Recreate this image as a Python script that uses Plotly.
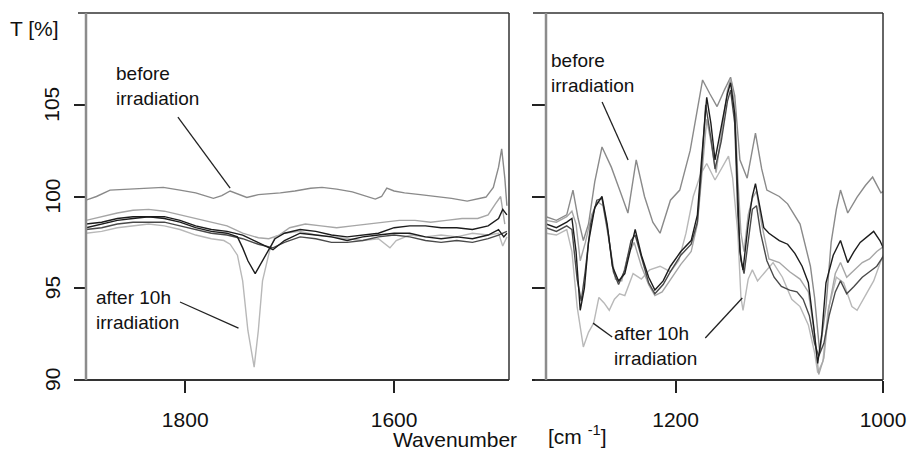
import plotly.graph_objects as go

# ---------------- data: left panel (1900-1490 cm-1) ----------------
L_before_wn = [1895,1885,1872,1855,1840,1821,1805,1790,1773,1765,1757,1748,1741,1730,1718,1709,1695,1680,1669,1655,1640,1628,1618,1612,1607,1600,1590,1575,1560,1545,1530,1520,1512,1505,1500,1497,1494,1492]
L_before_T = [99.8,100.0,100.35,100.4,100.45,100.5,100.35,100.2,99.9,100.05,100.3,100.1,99.95,100.1,100.15,100.2,100.3,100.45,100.5,100.4,100.25,100.05,99.86,100.0,100.46,100.3,100.2,100.1,100.0,99.9,99.75,99.85,99.97,100.5,101.6,102.6,101.0,99.5]

L_after_wn = [1895,1880,1865,1850,1835,1820,1805,1790,1775,1763,1757,1750,1745,1740,1734,1730,1726,1719,1714,1705,1690,1675,1660,1645,1630,1615,1608,1604,1598,1585,1570,1555,1540,1525,1510,1500,1496,1492]
L_after_T = [98.0,98.1,98.3,98.4,98.5,98.4,98.2,97.9,97.7,97.6,97.4,96.8,95.4,92.7,90.7,92.7,95.4,97.1,97.8,98.0,98.1,97.9,97.8,97.7,97.6,97.7,97.4,97.2,97.6,97.9,97.8,97.9,97.8,98.0,97.9,98.0,97.3,97.8]

L_black1_wn = [1895,1880,1865,1850,1835,1820,1805,1790,1775,1760,1750,1745,1740,1733,1727,1720,1714,1705,1690,1675,1660,1645,1630,1615,1600,1585,1570,1555,1540,1525,1510,1500,1496,1492]
L_black1_T = [98.3,98.5,98.7,98.8,98.9,98.8,98.6,98.3,98.1,98.0,97.8,97.2,96.5,95.8,96.4,97.1,97.7,98.0,98.2,98.1,97.9,97.8,97.9,98.0,98.3,98.4,98.4,98.3,98.3,98.2,98.4,98.8,99.3,99.0]

L_black2_wn = [1895,1880,1865,1850,1835,1820,1805,1790,1775,1760,1745,1730,1716,1705,1690,1675,1660,1645,1630,1615,1600,1585,1570,1555,1540,1525,1510,1500,1495,1492]
L_black2_T = [98.5,98.6,98.8,98.9,98.9,98.9,98.7,98.4,98.2,98.1,97.9,97.5,97.1,97.6,98.0,97.9,97.8,97.6,97.8,97.9,98.0,98.0,97.8,97.7,97.8,97.7,97.9,98.2,97.8,98.0]

L_dark_wn = [1895,1880,1865,1850,1835,1820,1805,1790,1775,1760,1745,1730,1716,1705,1690,1675,1660,1645,1630,1615,1600,1585,1570,1555,1540,1525,1510,1500,1492]
L_dark_T = [98.2,98.3,98.5,98.6,98.6,98.6,98.4,98.2,98.0,97.9,97.7,97.4,97.2,97.5,97.8,97.7,97.5,97.5,97.6,97.8,97.9,97.8,97.6,97.5,97.6,97.5,97.7,97.9,98.1]

L_light_wn = [1895,1880,1865,1850,1835,1820,1805,1790,1775,1760,1745,1730,1720,1710,1700,1685,1670,1655,1640,1625,1610,1595,1580,1565,1550,1535,1520,1510,1503,1498,1494]
L_light_T = [98.7,98.9,99.1,99.25,99.3,99.2,99.0,98.8,98.6,98.4,98.0,97.75,97.7,97.9,98.3,98.5,98.4,98.3,98.4,98.5,98.6,98.7,98.7,98.6,98.7,98.8,98.8,99.0,99.6,100.0,98.5]

# ---------------- data: right panel (1325-1000 cm-1) ----------------
R_before_wn = [1325,1315,1305,1299,1294,1289,1284,1278,1271,1262,1253,1246,1238,1230,1222,1215,1205,1196,1186,1178,1174,1167,1160,1153,1147,1143,1138,1131,1123,1117,1112,1100,1092,1080,1070,1066,1061,1055,1050,1045,1041,1034,1025,1017,1010,1002,999]
R_before_T = [98.9,98.7,99.0,100.35,98.8,97.6,98.5,100.8,102.7,101.6,100.2,99.1,102.0,100.0,98.6,98.0,99.8,100.35,102.5,105.0,106.35,105.6,104.9,105.8,106.5,105.5,102.0,101.0,103.45,101.5,100.35,100.0,99.6,98.5,96.2,94.5,91.5,94.0,97.5,99.3,100.35,99.1,99.97,100.6,101.06,100.2,100.3]

R_after_wn = [1325,1315,1305,1300,1295,1289,1284,1279,1274,1269,1264,1259,1254,1249,1241,1233,1225,1215,1205,1197,1190,1183,1176,1170,1162,1155,1149,1145,1140,1137,1135,1130,1126,1121,1115,1106,1097,1088,1080,1072,1066,1063,1058,1053,1045,1038,1030,1025,1015,1009,1002,999]
R_after_T = [98.0,97.9,98.2,97.0,94.0,91.8,92.6,93.1,94.5,94.2,93.8,94.4,94.7,94.6,95.8,95.5,96.0,96.2,95.9,96.5,98.0,100.0,101.2,101.8,100.9,101.6,102.2,101.0,98.0,94.5,93.8,95.5,96.0,95.4,95.8,96.4,95.6,94.4,94.0,93.0,91.5,90.4,91.0,93.8,95.6,95.3,94.0,93.8,94.8,95.4,96.5,96.9]

R_black1_wn = [1325,1315,1305,1300,1296,1292,1288,1284,1278,1271,1266,1261,1255,1249,1244,1239,1233,1226,1220,1212,1205,1195,1185,1179,1175,1170,1166,1162,1156,1150,1147,1143,1140,1138,1135,1130,1126,1123,1119,1115,1110,1100,1092,1085,1078,1072,1067,1063,1059,1055,1048,1041,1034,1028,1022,1015,1009,1003,999]
R_black1_T = [98.5,98.3,98.6,98.8,97.0,93.8,95.0,97.5,99.4,100.0,98.5,96.2,95.4,95.8,97.0,98.2,96.8,95.6,94.9,95.4,96.2,97.0,97.6,99.0,102.0,105.4,104.0,102.0,103.8,105.6,106.2,104.5,100.0,97.0,96.0,98.5,100.0,100.7,99.5,98.3,98.0,97.6,97.4,96.9,96.2,95.3,93.0,90.9,92.5,95.3,96.8,97.6,96.4,97.0,97.5,97.8,98.1,97.6,97.1]

R_black2_wn = [1325,1315,1305,1300,1295,1291,1287,1282,1276,1271,1265,1260,1255,1249,1243,1239,1232,1226,1220,1212,1205,1195,1185,1179,1175,1171,1166,1162,1156,1150,1147,1143,1140,1137,1134,1130,1126,1122,1118,1112,1105,1098,1090,1083,1077,1071,1066,1062,1057,1052,1046,1041,1035,1028,1020,1013,1006,999]
R_black2_T = [98.3,98.1,98.4,98.2,95.5,94.3,96.0,98.5,99.8,99.9,98.0,95.9,95.2,96.0,97.6,97.9,96.5,95.3,94.7,95.2,95.9,96.8,97.4,98.6,101.5,105.0,103.2,101.5,103.0,105.2,105.8,104.0,99.0,96.5,95.8,97.5,99.3,99.5,98.0,96.5,95.6,95.1,94.9,94.8,94.4,93.5,92.0,91.3,92.0,93.5,94.8,95.4,94.7,95.1,95.6,95.9,96.2,96.8]

R_light_wn = [1325,1315,1305,1300,1296,1292,1287,1281,1275,1270,1264,1258,1252,1246,1240,1233,1226,1220,1213,1205,1195,1185,1179,1175,1170,1166,1161,1156,1150,1147,1143,1140,1137,1134,1130,1126,1122,1117,1110,1100,1090,1080,1072,1066,1062,1057,1052,1046,1041,1035,1028,1020,1013,1006,999]
R_light_T = [98.7,98.6,98.9,99.2,98.5,96.5,97.5,99.0,99.7,99.5,97.5,95.5,95.4,96.8,97.5,96.2,95.2,94.6,94.8,95.5,96.3,97.0,98.5,101.0,104.2,103.0,101.3,103.4,105.8,106.4,105.0,101.0,98.0,97.0,99.0,99.9,100.3,98.5,96.6,96.4,95.9,95.5,94.8,92.5,90.3,91.2,94.0,95.8,96.4,95.6,96.0,96.4,96.6,97.0,97.3]

y_ticks = [90, 95, 100, 105]
y_tick_text = ["90", "95", "100", "105"]
x_ticks_left = [1800, 1600]
x_ticks_right = [1200, 1000]

C_BEFORE = "#8a8a8a"
C_AFTER = "#b8b8b8"
C_BLACK = "#1c1c1c"
C_DARK = "#4a4a4a"
C_LIGHT = "#a6a6a6"
FONT = "Liberation Sans, Arial, sans-serif"

fig = go.Figure()

def add(xs, ys, color, xa, ya, w=1.4):
    fig.add_trace(go.Scatter(x=xs, y=ys, mode="lines", line=dict(color=color, width=w),
                             xaxis=xa, yaxis=ya, showlegend=False, hoverinfo="skip"))

for xa, ya, sets in [
    ("x", "y", [(L_light_wn, L_light_T, C_LIGHT), (L_after_wn, L_after_T, C_AFTER),
                (L_before_wn, L_before_T, C_BEFORE), (L_dark_wn, L_dark_T, C_DARK),
                (L_black2_wn, L_black2_T, C_BLACK), (L_black1_wn, L_black1_T, C_BLACK)]),
    ("x2", "y2", [(R_after_wn, R_after_T, C_AFTER), (R_before_wn, R_before_T, C_BEFORE),
                  (R_light_wn, R_light_T, C_LIGHT), (R_black2_wn, R_black2_T, C_DARK),
                  (R_black1_wn, R_black1_T, C_BLACK)]),
]:
    for xs, ys, c in sets:
        add(xs, ys, c, xa, ya)

W, H = 909, 462
ydom = [(H - 380) / H, (H - 13) / H]
axis_common = dict(showgrid=False, zeroline=False, showline=False, ticks="outside",
                   tickcolor="#222", tickwidth=1.5, ticklen=12,
                   tickfont=dict(family=FONT, size=21, color="#111"))

fig.update_layout(
    width=W, height=H, margin=dict(l=0, r=0, t=0, b=0, autoexpand=False),
    paper_bgcolor="white", plot_bgcolor="white",
    xaxis=dict(domain=[86 / W, 509 / W], range=[1895, 1490], tickvals=x_ticks_left,
               anchor="y", ticklabelstandoff=9, **axis_common),
    yaxis=dict(domain=ydom, range=[90, 110], tickvals=y_ticks, showticklabels=False,
               anchor="x", **{**axis_common, "ticklen": 11}),
    xaxis2=dict(domain=[546 / W, 883 / W], range=[1325, 1000], tickvals=x_ticks_right,
                anchor="y2", ticklabelstandoff=9, **axis_common),
    yaxis2=dict(domain=ydom, range=[90, 110], tickvals=y_ticks, showticklabels=False,
                anchor="x2", **{**axis_common, "ticklen": 13}),
)

shapes = []
def frame(xr, yr, ext_bottom, ext_top):
    dom_x = xr + " domain"
    dom_y = yr + " domain"
    shapes.append(dict(type="line", xref=dom_x, yref=dom_y, x0=ext_bottom, x1=1, y0=0, y1=0,
                       line=dict(color="#333", width=2)))
    shapes.append(dict(type="line", xref=dom_x, yref=dom_y, x0=ext_top, x1=1, y0=1, y1=1,
                       line=dict(color="#333", width=1.5)))
    shapes.append(dict(type="line", xref=dom_x, yref=dom_y, x0=1, x1=1, y0=0, y1=1,
                       line=dict(color="#333", width=1.5)))
    shapes.append(dict(type="line", xref=dom_x, yref=dom_y, x0=0, x1=0, y0=0, y1=1,
                       line=dict(color="#8c8c8c", width=2.5)))

frame("x", "y", -11 / 423, -8 / 423)
frame("x2", "y2", -11 / 337, -13 / 337)

def pointer(x0, y0, x1, y1, xr, yr):
    shapes.append(dict(type="line", xref=xr, yref=yr, x0=x0, y0=y0, x1=x1, y1=y1,
                       line=dict(color="#222", width=1.3)))

pointer(1807, 104.33, 1757, 100.46, "x", "y")
pointer(1805, 94.25, 1749, 92.83, "x", "y")
pointer(1270.9, 105.15, 1245.8, 101.99, "x2", "y2")
pointer(1279.6, 93.1, 1261.2, 92.34, "x2", "y2")
pointer(1171.4, 92.29, 1135.7, 94.47, "x2", "y2")
fig.update_layout(shapes=shapes)

ann_font = dict(family=FONT, size=19, color="#111")
anns = []
def label(text, x, y, xr, yr):
    anns.append(dict(text=text, x=x, y=y, xref=xr, yref=yr, xanchor="left", yanchor="top",
                     showarrow=False, align="left", font=ann_font))

label("before<br>irradiation", 1868.2, 107.38, "x", "y")
label("after 10h<br>irradiation", 1887.3, 95.2, "x", "y")
label("before<br>irradiation", 1322.1, 108.09, "x2", "y2")
label("after 10h<br>irradiation", 1261.2, 93.22, "x2", "y2")

big = dict(family=FONT, size=21, color="#111")
# rotated y tick labels of the left panel
for v, t in zip(y_ticks, y_tick_text):
    anns.append(dict(text=t, x=52 / W, y=v, xref="paper", yref="y", textangle=-90,
                     xanchor="center", yanchor="middle", showarrow=False, font=big))
anns.append(dict(text="T [%]", x=8 / W, y=1 - 15 / H, xref="paper", yref="paper",
                 xanchor="left", yanchor="top", showarrow=False, font=big))
anns.append(dict(text="Wavenumber", x=391 / W, y=1 - 426 / H, xref="paper", yref="paper",
                 xanchor="left", yanchor="top", showarrow=False, font=big))
anns.append(dict(text="[cm <sup>-1</sup>]", x=546 / W, y=1 - 420 / H, xref="paper", yref="paper",
                 xanchor="left", yanchor="top", showarrow=False, font=big))
fig.update_layout(annotations=anns)

fig.write_html("out.html", config={"displayModeBar": False},
               post_script="document.body.style.margin='0';document.body.style.overflow='hidden';")
